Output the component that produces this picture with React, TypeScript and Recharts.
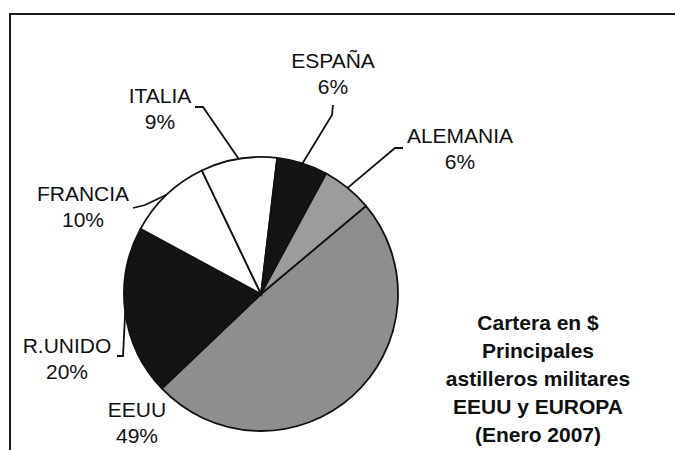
import { Cell, Pie, PieChart } from "recharts";

const countries = ["EEUU", "R.UNIDO", "FRANCIA", "ITALIA", "ESPAÑA", "ALEMANIA"];
const shares = [49, 20, 10, 9, 6, 6];
const fills = ["#8e8e8e", "#141414", "#ffffff", "#ffffff", "#141414", "#9c9c9c"];

const titleLines = [
  "Cartera en $",
  "Principales",
  "astilleros militares",
  "EEUU y EUROPA",
  "(Enero 2007)",
];

const data = countries.map((name, i) => ({ name, value: shares[i] }));

// where each label sits (centre of the name line), as offsets from the pie centre
const labelPlacement: Record<string, { text: [number, number]; leader: [number, number][] }> = {
  EEUU: { text: [-124, 115], leader: [] },
  "R.UNIDO": { text: [-194, 51], leader: [[-138, 62], [-144, 62]] },
  FRANCIA: { text: [-178, -101], leader: [[-116, -89], [-128, -86]] },
  ITALIA: { text: [-101, -199], leader: [[-58, -187], [-66, -187]] },
  "ESPAÑA": { text: [72, -234], leader: [[71, -179], [72, -189]] },
  ALEMANIA: { text: [199, -159], leader: [[134, -146], [142, -146]] },
};

const RAD = Math.PI / 180;
const font = "'Liberation Sans', Arial, sans-serif";
const fs = 21;
const capHalf = fs * 0.36;

function renderLabel(props: any) {
  const { cx, cy, midAngle, outerRadius, name, value } = props;
  const place = labelPlacement[name];
  const [tx, ty] = place.text;
  const ex = cx + outerRadius * Math.cos(-midAngle * RAD);
  const ey = cy + outerRadius * Math.sin(-midAngle * RAD);
  const pts = [[ex, ey], ...place.leader.map(([dx, dy]) => [cx + dx, cy + dy])];
  return (
    <g>
      {place.leader.length > 0 && (
        <polyline
          points={pts.map((p) => p.join(",")).join(" ")}
          fill="none"
          stroke="#111"
          strokeWidth={1.8}
        />
      )}
      <text x={cx + tx} y={cy + ty + capHalf} textAnchor="middle" fontSize={fs} fill="#111" fontFamily={font}>
        {name}
      </text>
      <text x={cx + tx} y={cy + ty + 26 + capHalf} textAnchor="middle" fontSize={fs} fill="#111" fontFamily={font}>
        {value}%
      </text>
    </g>
  );
}

export default function App() {
  return (
    <div style={{ position: "absolute", left: 0, top: 0, width: 675, height: 450, background: "#fff", overflow: "hidden" }}>
      <div
        style={{
          position: "absolute",
          left: 9,
          top: 13,
          width: 700,
          height: 500,
          borderLeft: "2px solid #1a1a1a",
          borderTop: "2px solid #1a1a1a",
        }}
      />
      <PieChart width={675} height={450} style={{ position: "absolute", left: 0, top: 0 }}>
        <Pie
          data={data}
          dataKey="value"
          nameKey="name"
          cx={256}
          cy={289}
          outerRadius={137}
          startAngle={40}
          endAngle={-320}
          stroke="#111"
          strokeWidth={1.8}
          label={renderLabel}
          labelLine={false}
          isAnimationActive={false}
        >
          {data.map((d, i) => (
            <Cell key={d.name} fill={fills[i]} />
          ))}
        </Pie>
      </PieChart>
      <div
        style={{
          position: "absolute",
          left: 428,
          top: 309,
          width: 220,
          textAlign: "center",
          fontFamily: font,
          fontWeight: "bold",
          fontSize: 21,
          lineHeight: "28px",
          color: "#111",
        }}
      >
        {titleLines.map((t) => (
          <div key={t}>{t}</div>
        ))}
      </div>
    </div>
  );
}
